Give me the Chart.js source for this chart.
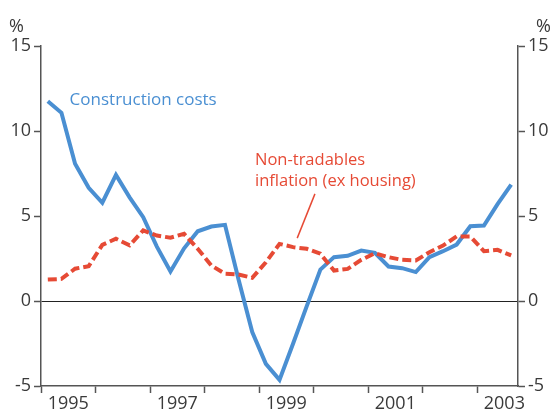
<!DOCTYPE html>
<html>
<head>
<meta charset="utf-8">
<script src="https://cdn.jsdelivr.net/npm/chart.js@4/dist/chart.umd.min.js"></script>
<style>
  html, body { margin: 0; padding: 0; background: #fff; }
  #wrap { width: 555px; height: 410px; position: relative; }
</style>
</head>
<body>
<div id="wrap"><canvas id="chart" width="555" height="410"></canvas></div>
<script>
// quarterly, 1995 Q1 to 2003 Q3
const quarters = [];
for (let y = 1995; y <= 2003; y++) {
    for (let q = 1; q <= 4; q++) {
        if (y === 2003 && q === 4) break;
        quarters.push(y + ' Q' + q);
    }
}
const yearLabels = ['1995', '1997', '1999', '2001', '2003'];
const yTicks = [-5, 0, 5, 10, 15];

const constructionCosts = [
    11.75, 11.07, 8.07, 6.66, 5.78, 7.42, 6.1, 4.93,
    3.2, 1.74, 3.1, 4.1, 4.38, 4.48, 1.25, -1.83,
    -3.7, -4.64, -2.5, -0.3, 1.85, 2.58, 2.66, 2.97,
    2.83, 2.03, 1.93, 1.7, 2.58, 2.93, 3.32, 4.4,
    4.44, 5.7, 6.85
];
const nonTradables = [
    1.26, 1.3, 1.9, 2.05, 3.3, 3.66, 3.27, 4.15,
    3.85, 3.72, 3.95, 3.07, 2.09, 1.6, 1.56, 1.36,
    2.28, 3.36, 3.17, 3.07, 2.78, 1.79, 1.89, 2.42,
    2.81, 2.58, 2.42, 2.38, 2.87, 3.26, 3.8, 3.8,
    2.93, 3.01, 2.68
];

const BLUE = '#4a8fd2';
const RED = '#e64a35';
const AXIS = '#555555';
const TEXT = '#3a3a3a';
const FONT = "'Open Sans', sans-serif";

const toPoints = arr => arr.map((v, i) => ({ x: i + 0.5, y: v }));

const annotations = {
    id: 'annotations',
    afterDraw(chart) {
        const { ctx, scales } = chart;
        const x = scales.x, y = scales.y;
        ctx.save();
        ctx.font = '18px ' + FONT;
        ctx.fillStyle = TEXT;
        ctx.textBaseline = 'middle';
        ctx.textAlign = 'left';
        ctx.fillText('%', 9, 27);
        ctx.fillText('%', 536, 27);

        ctx.font = '17px ' + FONT;
        ctx.fillStyle = BLUE;
        ctx.fillText('Construction costs', x.getPixelForValue(2.1), y.getPixelForValue(11.8));

        ctx.font = '16.5px ' + FONT;
        ctx.fillStyle = RED;
        ctx.fillText('Non-tradables', x.getPixelForValue(15.7), y.getPixelForValue(8.3));
        ctx.fillText('inflation (ex housing)', x.getPixelForValue(15.7), y.getPixelForValue(7.05));

        ctx.strokeStyle = RED;
        ctx.lineWidth = 1.5;
        ctx.beginPath();
        ctx.moveTo(x.getPixelForValue(20.1), y.getPixelForValue(6.3));
        ctx.lineTo(x.getPixelForValue(18.8), y.getPixelForValue(3.7));
        ctx.stroke();
        ctx.restore();
    }
};

new Chart(document.getElementById('chart').getContext('2d'), {
    type: 'line',
    data: {
        datasets: [{
            label: 'Construction costs',
            data: toPoints(constructionCosts),
            borderColor: BLUE,
            borderWidth: 4,
            pointRadius: 0,
            tension: 0,
            order: 2
        }, {
            label: 'Non-tradables inflation (ex housing)',
            data: toPoints(nonTradables),
            borderColor: RED,
            borderWidth: 4,
            borderDash: [9, 4],
            pointRadius: 0,
            tension: 0,
            order: 1
        }]
    },
    options: {
        responsive: false,
        animation: false,
        layout: { padding: { top: 46, left: 0, right: 0, bottom: 0 } },
        plugins: {
            legend: { display: false },
            tooltip: { enabled: false }
        },
        scales: {
            x: {
                type: 'linear',
                min: 0,
                max: quarters.length,
                afterBuildTicks: axis => {
                    const t = [];
                    for (let v = 0; v <= 34; v += 2) t.push({ value: v });
                    axis.ticks = t;
                },
                afterFit: axis => { axis.height = 24; },
                border: { display: true, color: AXIS, width: 1.5 },
                grid: {
                    drawOnChartArea: false,
                    tickLength: 7,
                    tickWidth: 1.5,
                    tickColor: ctx => (ctx.tick && ctx.tick.value % 4 === 0) ? AXIS : 'rgba(0,0,0,0)'
                },
                ticks: {
                    autoSkip: false,
                    maxRotation: 0,
                    padding: 0,
                    color: TEXT,
                    font: { family: FONT, size: 18 },
                    callback: v => (v % 8 === 2) ? yearLabels[(v - 2) / 8] : ''
                }
            },
            y: {
                position: 'left',
                min: -5,
                max: 15,
                afterBuildTicks: axis => { axis.ticks = yTicks.map(v => ({ value: v })); },
                afterFit: axis => { axis.width = 41; },
                border: { display: true, color: AXIS, width: 1.5 },
                grid: {
                    color: ctx => (ctx.tick && ctx.tick.value === 0) ? '#222222' : 'rgba(0,0,0,0)',
                    lineWidth: 1,
                    tickColor: AXIS,
                    tickLength: 7,
                    tickWidth: 1.5
                },
                ticks: {
                    padding: 3,
                    color: TEXT,
                    font: { family: FONT, size: 18 }
                }
            },
            y2: {
                position: 'right',
                min: -5,
                max: 15,
                afterBuildTicks: axis => { axis.ticks = yTicks.map(v => ({ value: v })); },
                afterFit: axis => { axis.width = 37; },
                border: { display: true, color: AXIS, width: 1.5 },
                grid: {
                    drawOnChartArea: false,
                    tickColor: AXIS,
                    tickLength: 7,
                    tickWidth: 1.5
                },
                ticks: {
                    padding: 3,
                    color: TEXT,
                    font: { family: FONT, size: 18 }
                }
            }
        }
    },
    plugins: [annotations]
});
</script>
</body>
</html>
